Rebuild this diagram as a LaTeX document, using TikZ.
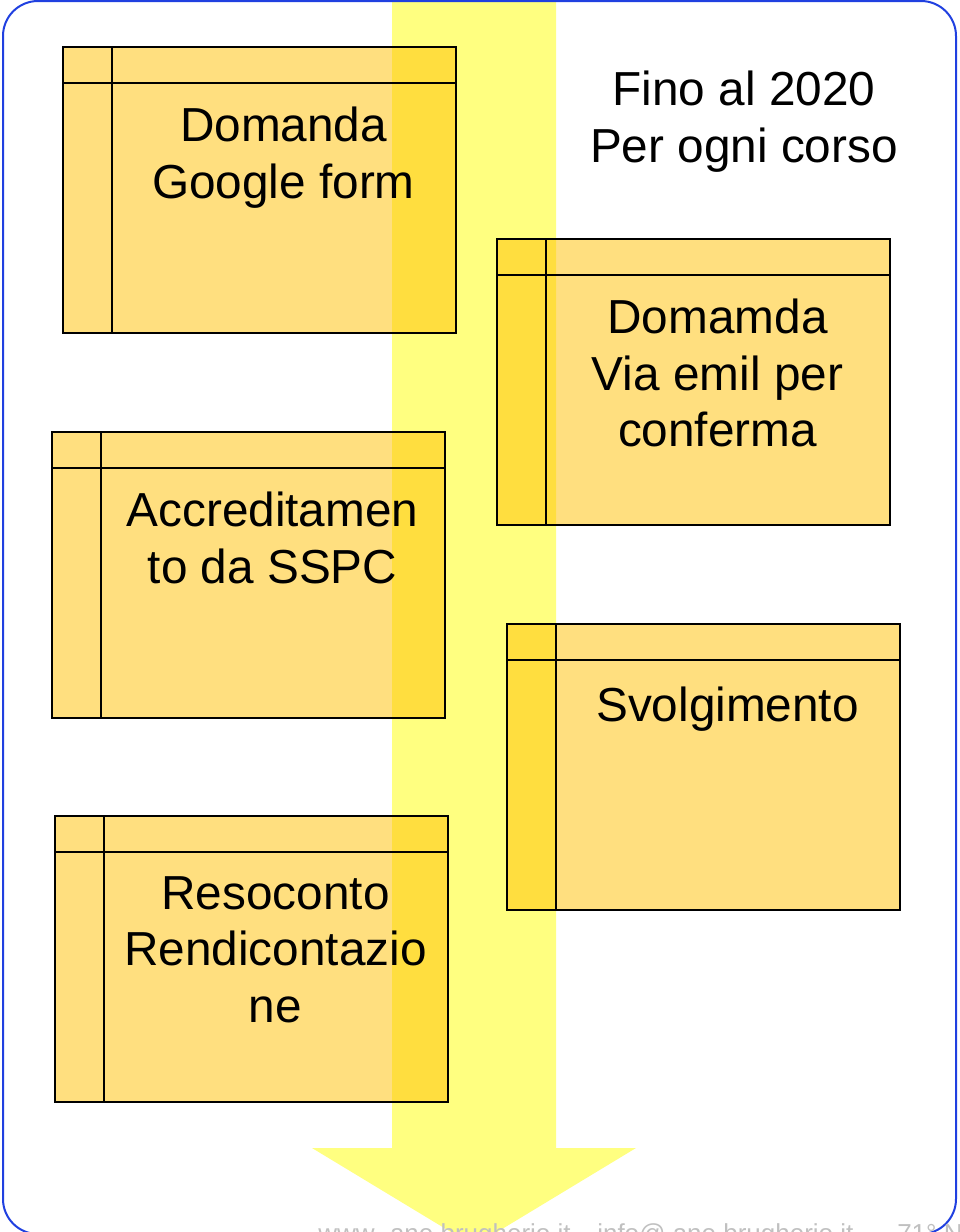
\documentclass[tikz,border=0pt]{standalone}
\usepackage{fontspec}
\setmainfont{Liberation Sans}
\usepackage{tikz}

\definecolor{bordo}{HTML}{2040E0}
\definecolor{freccia}{HTML}{FFFF80}
\definecolor{oro}{HTML}{FFBF00}
\definecolor{piede}{HTML}{C0C0C0}

\tikzset{
  tabella/.style={draw=black, line width=1.5pt, fill=oro, fill opacity=0.5, draw opacity=1,
    minimum width=294.75pt, minimum height=214.5pt, inner sep=0pt, outer sep=0pt, anchor=north west},
  riga/.style={draw=black, line width=1.5pt},
  testo/.style={font=\fontsize{35.8}{42.4}\selectfont, align=center, anchor=north, inner sep=0pt,
    execute at begin node={\rule{0pt}{28pt}}},
  piedino/.style={font=\fontsize{19.5}{23}\selectfont, text=piede, anchor=base west, inner sep=0pt}
}

\begin{document}
\begin{tikzpicture}[x=0.75pt,y=-0.75pt]
\useasboundingbox (0,0) rectangle (960,1232);
\clip (0,0) rectangle (960,1232);

% freccia gialla
\fill[freccia] (392,2) -- (556,2) -- (556,1148) -- (636,1148) -- (474,1246) -- (312,1148) -- (392,1148) -- cycle;

% cornice
\draw[bordo, line width=1.5pt, rounded corners=26.25pt] (3,1) rectangle (956,1234);

% tabelle
\foreach \nome/\x/\y/\testo in {a/63/47/{Domanda\\Google form},
                                 b/497/239/{Domamda\\Via emil per\\conferma},
                                 c/52/432/{Accreditamen\\to da SSPC},
                                 d/507/624/{Svolgimento},
                                 e/55/816/{Resoconto\\Rendicontazio\\ne}} {
  \node[tabella] (\nome) at (\x,\y) {};
  \draw[riga] (\nome.north west) ++(49,0) -- ++(0,286);
  \draw[riga] (\nome.north west) ++(0,36) -- ++(393,0);
  \node[testo] (t\nome) at (\x+220.5,\y+60) {\testo};
}

\node[testo] (titolo) at (744,70.7) {Fino al 2020\\Per ogni corso};

% piede di pagina
\node[piedino] (sito) at (318,1242) {www. ane brugherio.it};
\node[piedino] (posta) at (597,1242) {info@ ane brugherio.it};
\node[piedino] (altro) at (897,1242) {71° N};
\end{tikzpicture}
\end{document}
